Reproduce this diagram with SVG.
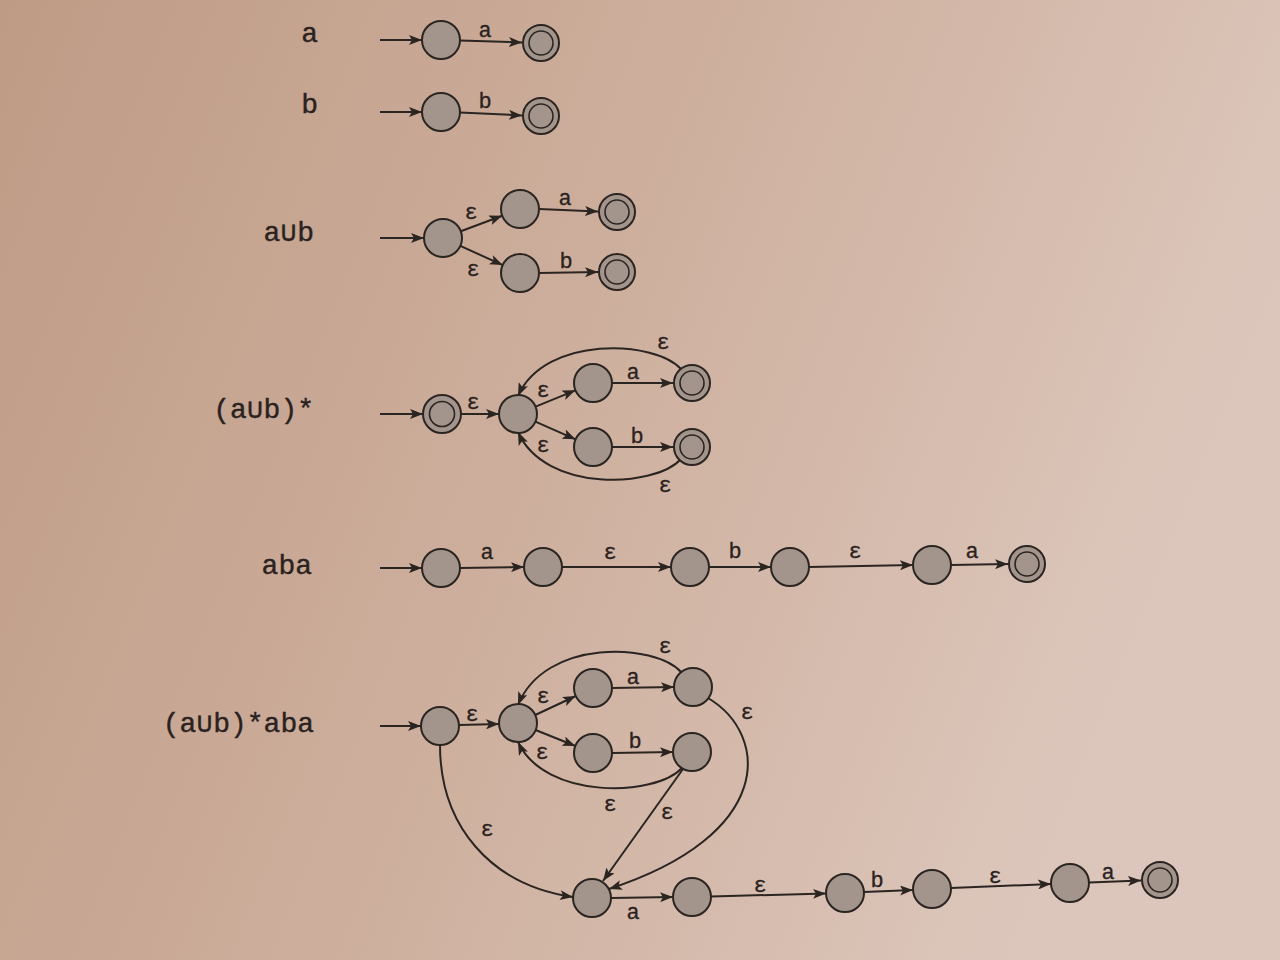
<svg xmlns="http://www.w3.org/2000/svg" width="1280" height="960" viewBox="0 0 1280 960">
<defs>
<linearGradient id="bg" x1="0" y1="0" x2="1" y2="0.3">
<stop offset="0" stop-color="#be9b85"/>
<stop offset="0.5" stop-color="#cdae9c"/>
<stop offset="1" stop-color="#dcc6bb"/>
</linearGradient>
<marker id="ah" markerUnits="userSpaceOnUse" markerWidth="14" markerHeight="10" refX="13" refY="5" orient="auto">
<path d="M0,0 L13,5 L0,10 L3,5 z" fill="#2b2522"/>
</marker>
<style>
.n{fill:#a4958c;stroke:#2b2522;stroke-width:2}
.acc{fill:none;stroke:#2b2522;stroke-width:1.6}
.e{fill:none;stroke:#2b2522;stroke-width:2;marker-end:url(#ah)}
.lbl{font-family:"Liberation Mono","DejaVu Sans Mono",monospace;font-size:28px;fill:#2a2220;text-anchor:end;stroke:#2a2220;stroke-width:0.4}
.t{font-family:"Liberation Mono","DejaVu Sans Mono",monospace;font-size:22px;fill:#2a2220;text-anchor:middle;stroke:#2a2220;stroke-width:0.3}
</style>
</defs>
<rect width="1280" height="960" fill="url(#bg)"/>

<g id="labels">
<text class="lbl" x="318" y="42">a</text>
<text class="lbl" x="318" y="113">b</text>
<text class="lbl" x="314" y="241">a∪b</text>
<text class="lbl" x="314" y="418">(a∪b)*</text>
<text class="lbl" x="312" y="574">aba</text>
<text class="lbl" x="314" y="732">(a∪b)*aba</text>
</g>

<g id="connectors">
<!-- row a -->
<line class="e" x1="380" y1="40" x2="422" y2="40"/>
<line class="e" x1="460" y1="40.6" x2="522" y2="42.4"/>
<!-- row b -->
<line class="e" x1="380" y1="112" x2="422" y2="112"/>
<line class="e" x1="460" y1="112.6" x2="522" y2="115.4"/>
<!-- row aUb -->
<line class="e" x1="380" y1="238" x2="424" y2="238"/>
<line class="e" x1="460.8" y1="231.3" x2="502.2" y2="215.7"/>
<line class="e" x1="460.3" y1="245.9" x2="502.7" y2="265.1"/>
<line class="e" x1="539" y1="209" x2="598" y2="211.5"/>
<line class="e" x1="539" y1="273" x2="598" y2="272"/>
<!-- row (aUb)* -->
<line class="e" x1="380" y1="414" x2="423" y2="414"/>
<line class="e" x1="461" y1="414" x2="499" y2="414"/>
<line class="e" x1="535.6" y1="406.7" x2="575.4" y2="390.3"/>
<line class="e" x1="535.4" y1="421.7" x2="575.6" y2="439.3"/>
<line class="e" x1="612" y1="383" x2="673" y2="383"/>
<line class="e" x1="612" y1="447" x2="673" y2="447"/>
<path class="e" d="M681,369 C655,340 545,335 518,396"/>
<path class="e" d="M681,459 C655,488 545,493 518,432"/>
<!-- row aba -->
<line class="e" x1="380" y1="568" x2="422" y2="568"/>
<line class="e" x1="460" y1="568" x2="524" y2="567"/>
<line class="e" x1="562" y1="567" x2="671" y2="567"/>
<line class="e" x1="709" y1="567" x2="771" y2="567"/>
<line class="e" x1="809" y1="567" x2="913" y2="565"/>
<line class="e" x1="951" y1="565" x2="1008" y2="564"/>
<!-- row (aUb)*aba -->
<line class="e" x1="380" y1="726" x2="421" y2="726"/>
<line class="e" x1="459" y1="725" x2="499" y2="724"/>
<line class="e" x1="535.2" y1="715" x2="575.8" y2="696"/>
<line class="e" x1="535.6" y1="730" x2="575.4" y2="746"/>
<line class="e" x1="612" y1="688" x2="674" y2="687"/>
<line class="e" x1="612" y1="753" x2="673" y2="752"/>
<path class="e" d="M681,672 C655,643 545,638 518,705"/>
<path class="e" d="M682,768 C655,797 545,800 518,742"/>
<path class="e" d="M708,698 C770,735 775,835 609,889"/>
<line class="e" x1="683" y1="769" x2="603" y2="881"/>
<path class="e" d="M440,745 C440,825 490,885 573,897"/>
<line class="e" x1="611" y1="898" x2="673" y2="897"/>
<line class="e" x1="711" y1="896.5" x2="826" y2="893.5"/>
<line class="e" x1="864" y1="892" x2="913" y2="890"/>
<line class="e" x1="951" y1="888" x2="1051" y2="884"/>
<line class="e" x1="1089" y1="882.4" x2="1141" y2="880.6"/>
</g>

<g id="edge-labels">
<text class="t" x="485" y="37">a</text>
<text class="t" x="485" y="108">b</text>
<text class="t" x="471" y="219">ε</text>
<text class="t" x="473" y="276">ε</text>
<text class="t" x="565" y="205">a</text>
<text class="t" x="566" y="268">b</text>
<text class="t" x="473" y="409">ε</text>
<text class="t" x="543" y="397">ε</text>
<text class="t" x="543" y="452">ε</text>
<text class="t" x="633" y="379">a</text>
<text class="t" x="637" y="443">b</text>
<text class="t" x="663" y="349">ε</text>
<text class="t" x="665" y="492">ε</text>
<text class="t" x="487" y="559">a</text>
<text class="t" x="610" y="559">ε</text>
<text class="t" x="735" y="558">b</text>
<text class="t" x="855" y="558">ε</text>
<text class="t" x="972" y="558">a</text>
<text class="t" x="472" y="721">ε</text>
<text class="t" x="543" y="703">ε</text>
<text class="t" x="542" y="759">ε</text>
<text class="t" x="633" y="684">a</text>
<text class="t" x="635" y="748">b</text>
<text class="t" x="665" y="653">ε</text>
<text class="t" x="747" y="719">ε</text>
<text class="t" x="610" y="811">ε</text>
<text class="t" x="667" y="819">ε</text>
<text class="t" x="487" y="836">ε</text>
<text class="t" x="633" y="919">a</text>
<text class="t" x="760" y="892">ε</text>
<text class="t" x="877" y="887">b</text>
<text class="t" x="995" y="883">ε</text>
<text class="t" x="1108" y="879">a</text>
</g>

<g id="nodes">
<g id="r1"><circle class="n" cx="441" cy="40" r="19"/><circle class="n" cx="541" cy="43" r="18"/><circle class="acc" cx="541" cy="43" r="12"/></g>
<g id="r2"><circle class="n" cx="441" cy="112" r="19"/><circle class="n" cx="541" cy="116" r="18"/><circle class="acc" cx="541" cy="116" r="12"/></g>
<g id="r3">
<circle class="n" cx="443" cy="238" r="19"/>
<circle class="n" cx="520" cy="209" r="19"/>
<circle class="n" cx="520" cy="273" r="19"/>
<circle class="n" cx="617" cy="212" r="18"/><circle class="acc" cx="617" cy="212" r="12"/>
<circle class="n" cx="617" cy="272" r="18"/><circle class="acc" cx="617" cy="272" r="12"/>
</g>
<g id="r4">
<circle class="n" cx="442" cy="414" r="19"/><circle class="acc" cx="442" cy="414" r="12.5"/>
<circle class="n" cx="518" cy="414" r="19"/>
<circle class="n" cx="593" cy="383" r="19"/>
<circle class="n" cx="593" cy="447" r="19"/>
<circle class="n" cx="692" cy="383" r="18"/><circle class="acc" cx="692" cy="383" r="12"/>
<circle class="n" cx="692" cy="447" r="18"/><circle class="acc" cx="692" cy="447" r="12"/>
</g>
<g id="r5">
<circle class="n" cx="441" cy="568" r="19"/>
<circle class="n" cx="543" cy="567" r="19"/>
<circle class="n" cx="690" cy="567" r="19"/>
<circle class="n" cx="790" cy="567" r="19"/>
<circle class="n" cx="932" cy="565" r="19"/>
<circle class="n" cx="1027" cy="564" r="18"/><circle class="acc" cx="1027" cy="564" r="12"/>
</g>
<g id="r6">
<circle class="n" cx="440" cy="726" r="19"/>
<circle class="n" cx="518" cy="723" r="19"/>
<circle class="n" cx="593" cy="688" r="19"/>
<circle class="n" cx="693" cy="687" r="19"/>
<circle class="n" cx="593" cy="753" r="19"/>
<circle class="n" cx="692" cy="752" r="19"/>
<circle class="n" cx="592" cy="898" r="19"/>
<circle class="n" cx="692" cy="897" r="19"/>
<circle class="n" cx="845" cy="893" r="19"/>
<circle class="n" cx="932" cy="889" r="19"/>
<circle class="n" cx="1070" cy="883" r="19"/>
<circle class="n" cx="1160" cy="880" r="18"/><circle class="acc" cx="1160" cy="880" r="12"/>
</g>
</g>
</svg>
